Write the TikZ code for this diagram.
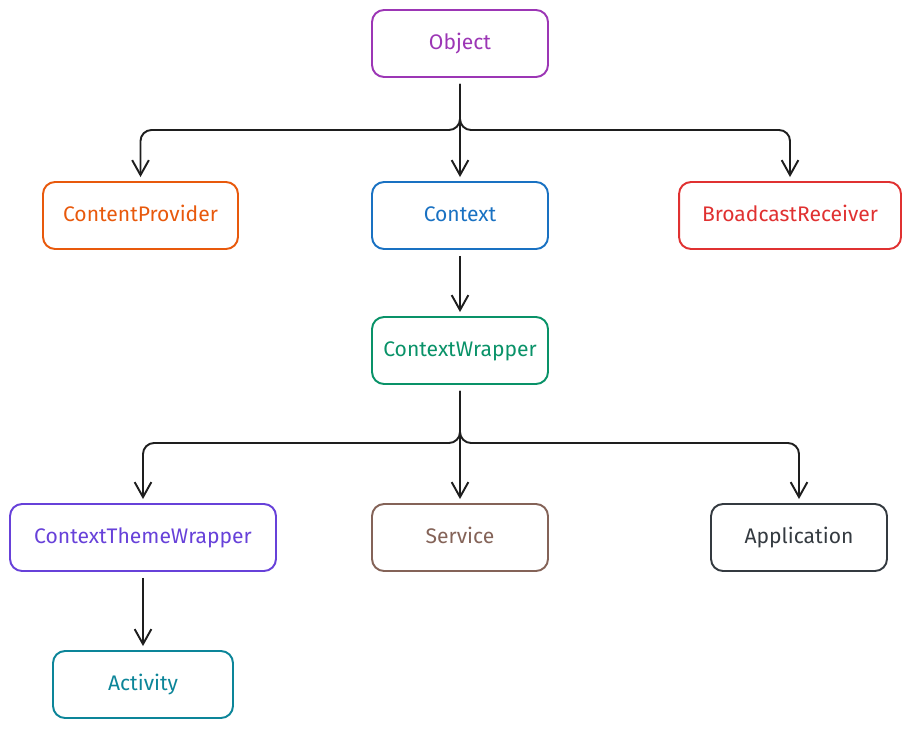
\documentclass[tikz,border=0pt]{standalone}
\usepackage{fontspec}
\setmainfont{Fira Sans}
\usetikzlibrary{arrows.meta}

\definecolor{objcol}{HTML}{9C36B5}
\definecolor{provcol}{HTML}{E8590C}
\definecolor{ctxcol}{HTML}{1971C2}
\definecolor{recvcol}{HTML}{E03131}
\definecolor{wrapcol}{HTML}{099268}
\definecolor{themecol}{HTML}{6741D9}
\definecolor{servcol}{HTML}{846358}
\definecolor{appcol}{HTML}{343A40}
\definecolor{actcol}{HTML}{0C8599}
\definecolor{linecol}{HTML}{1E1E1E}

\tikzset{
	box/.style={draw=#1, text=#1, line width=1.1pt, rounded corners=0.24cm,
		minimum width=3.52cm, minimum height=1.34cm, inner sep=0pt,
		text height=1.6ex, text depth=0.2ex,
		font=\fontsize{12}{14}\selectfont},
	link/.style={draw=linecol, line width=1.1pt, rounded corners=0.22cm,
		-{Straight Barb[length=8.5pt,width=9.5pt]},
		shorten <=0.12cm, shorten >=0.08cm},
}

\begin{document}
\begin{tikzpicture}[x=0.02cm, y=-0.02cm]
		%%%%% START %%%%%
		\useasboundingbox (0, 0) rectangle (911, 729);
		
		\node[box=objcol] (object) at (460, 43.5) {Object};
		
		\node[box=provcol, minimum width=3.9cm] (provider) at (140.5, 215.5) {ContentProvider};
		\node[box=ctxcol] (context) at (460, 215.5) {Context};
		\node[box=recvcol, minimum width=4.44cm] (receiver) at (790, 215.5) {BroadcastReceiver};
		
		\node[box=wrapcol] (wrapper) at (460, 350.5) {ContextWrapper};
		
		\node[box=themecol, minimum width=5.32cm] (theme) at (143, 537.5) {ContextThemeWrapper};
		\node[box=servcol] (service) at (460, 537.5) {Service};
		\node[box=appcol] (application) at (799, 537.5) {Application};
		
		\node[box=actcol, minimum width=3.6cm] (activity) at (143, 684.5) {Activity};
		
		% branch points
		\coordinate (top split) at (460, 130);
		\coordinate (low split) at (460, 443);
		
		\draw[link] (object.south) -- (top split) -| (provider.north);
		\draw[link] (object.south) -- (context.north);
		\draw[link] (object.south) -- (top split) -| (receiver.north);
		
		\draw[link] (context.south) -- (wrapper.north);
		
		\draw[link] (wrapper.south) -- (low split) -| (theme.north);
		\draw[link] (wrapper.south) -- (service.north);
		\draw[link] (wrapper.south) -- (low split) -| (application.north);
		
		\draw[link] (theme.south) -- (activity.north);
		%%%%% END %%%%%
	\end{tikzpicture}
\end{document}
